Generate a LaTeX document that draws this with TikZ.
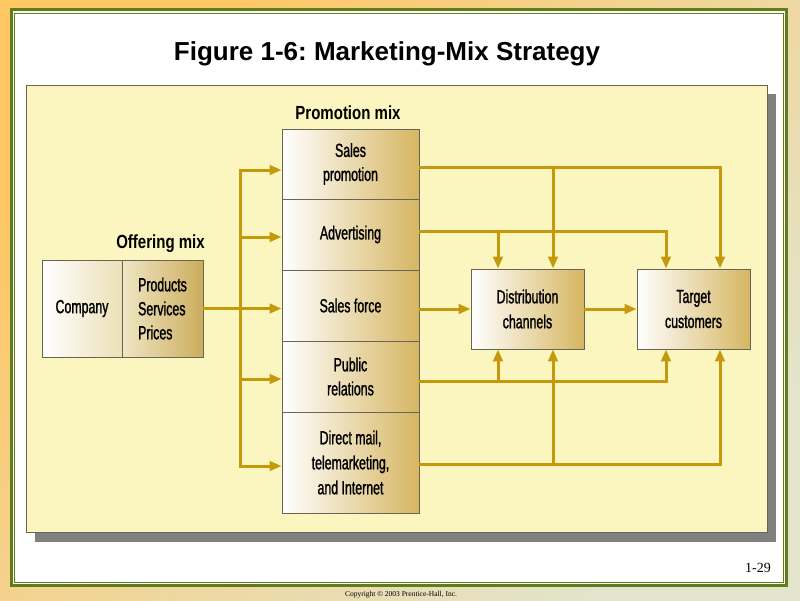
\documentclass[tikz,border=0pt]{standalone}
\usepackage{fontspec}
\setmainfont{Liberation Sans}
\newfontfamily\condf[FakeStretch=0.65,FakeBold=1.2]{Liberation Sans}
\newfontfamily\condbf[FakeStretch=0.79]{Liberation Sans}
\newfontfamily\serf{Liberation Serif}
\usetikzlibrary{arrows.meta,calc}
\definecolor{bgA}{RGB}{255,198,100}
\definecolor{bgB}{RGB}{226,228,204}
\definecolor{frameg}{RGB}{95,125,25}
\definecolor{panel}{RGB}{251,245,192}
\definecolor{shadowc}{RGB}{128,128,128}
\definecolor{gold}{RGB}{214,182,98}
\definecolor{goldlight}{RGB}{236,224,182}
\definecolor{arrc}{RGB}{196,154,12}
\definecolor{boxline}{RGB}{105,100,85}
\frenchspacing
\begin{document}
\begin{tikzpicture}[x=1pt,y=-1pt,
  boxstyle/.style={draw=boxline, line width=0.9pt, inner sep=0pt, left color=white, right color=gold,
     font=\condf\fontsize{19}{24}\selectfont, align=center, text=black},
  conn/.style={draw=arrc, line width=3pt},
  arr/.style={conn, -{Triangle[length=12pt,width=9.5pt]}},
  lbl/.style={font=\condbf\bfseries\fontsize{19}{23}\selectfont, anchor=base, inner sep=0pt}
]
\useasboundingbox (0,0) rectangle (800,600);
% background
\shade[top color=bgA, bottom color=bgB, shading angle=45] (0,0) rectangle (800,600);
% slide frame
\fill[white] (11.5,9.7) rectangle (786.5,585.8);
\draw[frameg, line width=3pt] (11.5,9.7) rectangle (786.5,585.8);
\draw[frameg, line width=1pt] (14.5,13) rectangle (783,582.7);
% title
\node[font=\bfseries\fontsize{26}{30}\selectfont, anchor=base, inner sep=0pt] (title) at (387,60) {Figure 1-6: Marketing-Mix Strategy};
% panel
\fill[shadowc] (35,94) rectangle (776,542);
\draw[fill=panel, draw=boxline, line width=0.8pt] (26,85) rectangle (767,532);
% offering mix
\node[lbl] (offlbl) at (160.5,248) {Offering mix};
\node[boxstyle, minimum width=80pt, minimum height=97pt, left color=white, right color=goldlight] (company) at (82,308.5) {Company};
\node[boxstyle, minimum width=81pt, minimum height=97pt, align=left, left color=goldlight!80!white, right color=gold!95!black] (products) at (162.5,308.5) {Products\\Services\\Prices};
% promotion mix
\node[lbl] (promlbl) at (348,119) {Promotion mix};
\node[boxstyle, minimum width=137pt, minimum height=70pt] (sp) at (350.5,164) {Sales\\promotion};
\node[boxstyle, minimum width=137pt, minimum height=71pt] (adv) at (350.5,234.5) {Advertising};
\node[boxstyle, minimum width=137pt, minimum height=71pt] (sf) at (350.5,305.5) {Sales force};
\node[boxstyle, minimum width=137pt, minimum height=71pt] (pr) at (350.5,376.5) {Public\\relations};
\node[boxstyle, minimum width=137pt, minimum height=101pt, font=\condf\fontsize{19}{25}\selectfont] (dm) at (350.5,462.5) {Direct mail,\\telemarketing,\\and Internet};
% distribution and target
\node[boxstyle, minimum width=113pt, minimum height=80pt, font=\condf\fontsize{19}{25}\selectfont] (dist) at (527.5,309) {Distribution\\channels};
\node[boxstyle, minimum width=113pt, minimum height=80pt, font=\condf\fontsize{19}{25}\selectfont] (target) at (693.5,309) {Target\\customers};
% left trunk
\coordinate (trunkTop) at (240,170);
\coordinate (trunkBot) at (240,466);
\coordinate (spL) at ($(sp.west)+(0,6)$);
\coordinate (advL) at ($(adv.west)+(0,2.5)$);
\coordinate (prL) at ($(pr.west)+(0,2.5)$);
\coordinate (dmL) at ($(dm.west)+(0,3.5)$);
\draw[conn, line cap=rect] (trunkTop) -- (trunkBot);
\draw[arr] (trunkTop |- spL) -- (spL);
\draw[arr] (trunkTop |- advL) -- (advL);
\draw[arr] (products.east) -- (sf.west |- products.east);
\draw[arr] (trunkTop |- prL) -- (prL);
\draw[arr] (trunkTop |- dmL) -- (dmL);
% right side
\coordinate (spR) at ($(sp.east)+(0,3)$);
\coordinate (advR) at ($(adv.east)+(0,-3.5)$);
\coordinate (prR) at ($(pr.east)+(0,4.5)$);
\coordinate (dmR) at ($(dm.east)+(0,1.5)$);
\coordinate (dTa) at ($(dist.north)+(-29.5,0)$);
\coordinate (dTb) at ($(dist.north)+(25.5,0)$);
\coordinate (tTa) at ($(target.north)+(-27.5,0)$);
\coordinate (tTb) at ($(target.north)+(26.5,0)$);
\coordinate (dBa) at ($(dist.south)+(-29.5,0)$);
\coordinate (dBb) at ($(dist.south)+(25.5,0)$);
\coordinate (tBa) at ($(target.south)+(-27.5,0)$);
\coordinate (tBb) at ($(target.south)+(26.5,0)$);
\draw[arr] (spR) -| (tTb);
\draw[arr] (dTb |- spR) -- (dTb);
\draw[arr] (advR) -| (tTa);
\draw[arr] (dTa |- advR) -- (dTa);
\draw[arr] (sf.east |- dist.west) -- (dist.west);
\draw[arr] (dist.east) -- (target.west);
\draw[arr] (prR) -| (tBa);
\draw[arr] (dBa |- prR) -- (dBa);
\draw[arr] (dmR) -| (tBb);
\draw[arr] (dBb |- dmR) -- (dBb);
% footer
\node[font=\serf\fontsize{14}{16}\selectfont, anchor=base, inner sep=0pt] (pg) at (758,572) {1-29};
\node[font=\serf\fontsize{7.5}{9}\selectfont, anchor=base, inner sep=0pt] (copy) at (401,596) {Copyright © 2003 Prentice-Hall, Inc.};
\end{tikzpicture}
\end{document}
